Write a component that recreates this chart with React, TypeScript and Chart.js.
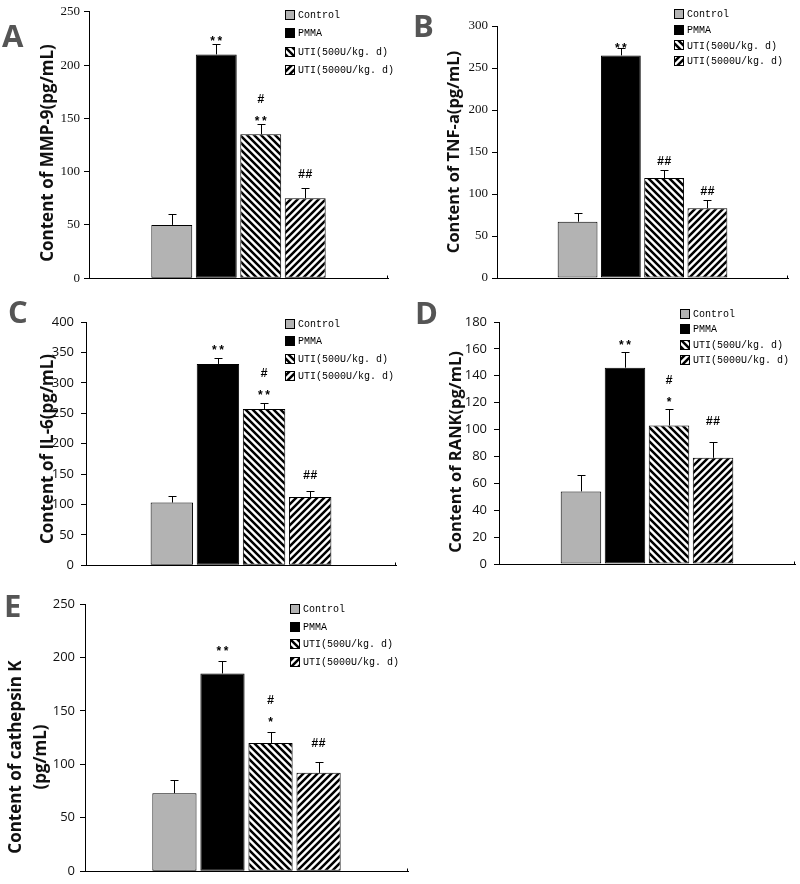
import React, { useEffect, useRef } from "react";
import { Chart, registerables } from "chart.js";

Chart.register(...registerables);

// ---------- data ----------
const groups = ["Control", "PMMA", "UTI(500U/kg. d)", "UTI(5000U/kg. d)"];

const mmp9Values = [50, 210, 135, 75];
const mmp9Errors = [10, 10, 10, 10];
const tnfValues = [67, 265, 119, 83];
const tnfErrors = [10, 9, 10, 10];
const il6Values = [103, 331, 257, 112];
const il6Errors = [10, 9, 10, 10];
const rankValues = [54, 146, 103, 79];
const rankErrors = [12, 12, 12, 12];
const ctskValues = [73, 185, 120, 92];
const ctskErrors = [12, 12, 10, 10];

const starsA = ["", "**", "**", ""];
const hashA = ["", "", "#", "##"];
const starsB = ["", "**", "", ""];
const hashB = ["", "", "##", "##"];
const starsC = ["", "**", "**", ""];
const hashC = ["", "", "#", "##"];
const starsD = ["", "**", "*", ""];
const hashD = ["", "", "#", "##"];
const starsE = ["", "**", "*", ""];
const hashE = ["", "", "#", "##"];

type Rect = { left: number; top: number; width: number; height: number };
type Panel = {
  letter: string;
  values: number[];
  errors: number[];
  stars: string[];
  hashes: string[];
  title: string[];
  yMax: number;
  yStep: number;
  tickFamily: string;
  tickPad: number;
  box: Rect;
  area: { left: number; right: number; top: number; bottom: number };
  legendX: number;
  legendY: number;
  legendGap: number;
  titleX: number[];
  titleY: number;
  titleSize: number;
  letterX: number;
  letterY: number;
  starGap: number;
  hashGap: number;
};

const panels: Panel[] = [
  {
    letter: "A", values: mmp9Values, errors: mmp9Errors, stars: starsA, hashes: hashA,
    title: ["Content of MMP-9(pg/mL)"], yMax: 250, yStep: 50, tickFamily: "'Liberation Serif', serif", tickPad: 4,
    box: { left: 0, top: 0, width: 400, height: 290 },
    area: { left: 89, right: 388, top: 9, bottom: 280 },
    legendX: 298, legendY: 15, legendGap: 18.3,
    titleX: [48], titleY: 153, titleSize: 17, letterX: 2, letterY: 47, starGap: 4, hashGap: 11,
  },
  {
    letter: "B", values: tnfValues, errors: tnfErrors, stars: starsB, hashes: hashB,
    title: ["Content of TNF-a(pg/mL)"], yMax: 300, yStep: 50, tickFamily: "'Liberation Serif', serif", tickPad: 4,
    box: { left: 400, top: 0, width: 400, height: 290 },
    area: { left: 497, right: 788, top: 26, bottom: 278 },
    legendX: 687, legendY: 14, legendGap: 15.7,
    titleX: [454], titleY: 152, titleSize: 16.5, letterX: 413, letterY: 37, starGap: 1, hashGap: 6,
  },
  {
    letter: "C", values: il6Values, errors: il6Errors, stars: starsC, hashes: hashC,
    title: ["Content of IL-6(pg/mL)"], yMax: 400, yStep: 50, tickFamily: "'Open Sans', sans-serif", tickPad: 7,
    box: { left: 0, top: 290, width: 400, height: 290 },
    area: { left: 86, right: 396, top: 322, bottom: 566 },
    legendX: 298, legendY: 324, legendGap: 17.3,
    titleX: [48], titleY: 449, titleSize: 17, letterX: 8, letterY: 323, starGap: 9, hashGap: 13,
  },
  {
    letter: "D", values: rankValues, errors: rankErrors, stars: starsD, hashes: hashD,
    title: ["Content of RANK(pg/mL)"], yMax: 180, yStep: 20, tickFamily: "'Open Sans', sans-serif", tickPad: 7,
    box: { left: 400, top: 290, width: 400, height: 290 },
    area: { left: 499, right: 795, top: 322, bottom: 564 },
    legendX: 693, legendY: 314, legendGap: 15.3,
    titleX: [456], titleY: 452, titleSize: 16.5, letterX: 415, letterY: 324, starGap: 8, hashGap: 18,
  },
  {
    letter: "E", values: ctskValues, errors: ctskErrors, stars: starsE, hashes: hashE,
    title: ["Content of cathepsin K", "(pg/mL)"], yMax: 250, yStep: 50, tickFamily: "'Open Sans', sans-serif", tickPad: 5,
    box: { left: 0, top: 580, width: 420, height: 304 },
    area: { left: 85, right: 408, top: 604, bottom: 875 },
    legendX: 303, legendY: 609, legendGap: 17.5,
    titleX: [16, 41], titleY: 757, titleSize: 17, letterX: 4, letterY: 617, starGap: 11, hashGap: 16,
  },
];

function makeHatch(dir: "back" | "fwd"): CanvasPattern | string {
  const s = 7;
  const c = document.createElement("canvas");
  c.width = s;
  c.height = s;
  const g = c.getContext("2d");
  if (!g) return "#888";
  g.fillStyle = "#fff";
  g.fillRect(0, 0, s, s);
  g.strokeStyle = "#000";
  g.lineWidth = 2.5;
  g.beginPath();
  for (let k = -1; k <= 1; k++) {
    if (dir === "back") {
      g.moveTo(k * s - 2, -2);
      g.lineTo(k * s + s + 2, s + 2);
    } else {
      g.moveTo(k * s - 2, s + 2);
      g.lineTo(k * s + s + 2, -2);
    }
  }
  g.stroke();
  return g.createPattern(c, "repeat") || "#888";
}

const markFont = "bold 12px 'Liberation Mono', monospace";
const legendFont = "10px 'Liberation Mono', monospace";

function overlayPlugin(p: Panel, fills: (string | CanvasPattern)[]) {
  return {
    id: "overlay" + p.letter,
    afterDatasetsDraw(chart: any) {
      const ctx: CanvasRenderingContext2D = chart.ctx;
      const ox = p.box.left;
      const oy = p.box.top;
      const yScale = chart.scales.y;
      ctx.save();
      // error bars
      ctx.strokeStyle = "#000";
      ctx.lineWidth = 1;
      p.values.forEach((v, i) => {
        const bar = chart.getDatasetMeta(i).data[0];
        const x = Math.round(bar.x) + 0.5;
        const yb = bar.y;
        const yt = Math.round(yScale.getPixelForValue(v + p.errors[i])) + 0.5;
        ctx.beginPath();
        ctx.moveTo(x, yb);
        ctx.lineTo(x, yt);
        ctx.moveTo(x - 4, yt);
        ctx.lineTo(x + 4, yt);
        ctx.stroke();
        // significance marks
        ctx.fillStyle = "#000";
        ctx.font = markFont;
        ctx.textAlign = "center";
        ctx.textBaseline = "alphabetic";
        const s = p.stars[i];
        const h = p.hashes[i];
        if (s) {
          const gb = yt - p.starGap;
          const m = ctx.measureText(s);
          ctx.fillText(s, bar.x, gb - m.actualBoundingBoxDescent);
          if (h) {
            const hb = gb - 18;
            const mh = ctx.measureText(h);
            ctx.fillText(h, bar.x, hb - mh.actualBoundingBoxDescent);
          }
        } else if (h) {
          const hb = yt - p.hashGap;
          const mh = ctx.measureText(h);
          ctx.fillText(h, bar.x, hb - mh.actualBoundingBoxDescent);
        }
      });
      // right end tick of x axis
      const xr = Math.round(chart.chartArea.right) - 0.5;
      const yBase = Math.round(chart.chartArea.bottom) + 0.5;
      ctx.beginPath();
      ctx.moveTo(xr, yBase);
      ctx.lineTo(xr, yBase - 3);
      ctx.stroke();
      // legend
      ctx.font = legendFont;
      ctx.textAlign = "left";
      ctx.textBaseline = "middle";
      groups.forEach((g, i) => {
        const cy = p.legendY + i * p.legendGap - oy;
        const bx = p.legendX - 13 - ox;
        ctx.fillStyle = fills[i] as any;
        ctx.fillRect(bx, Math.round(cy - 5), 10, 10);
        ctx.strokeStyle = "#000";
        ctx.strokeRect(bx + 0.5, Math.round(cy - 5) + 0.5, 9, 9);
        ctx.fillStyle = "#000";
        ctx.fillText(g, p.legendX - ox, cy + 0.5);
      });
      // y title
      ctx.font = `bold ${p.titleSize}px 'Open Sans', sans-serif`;
      ctx.fillStyle = "#111";
      ctx.textAlign = "center";
      ctx.textBaseline = "middle";
      p.title.forEach((t, k) => {
        ctx.save();
        ctx.translate(p.titleX[k] - ox, p.titleY - oy);
        ctx.rotate(-Math.PI / 2);
        ctx.fillText(t, 0, 0);
        ctx.restore();
      });
      // panel letter
      ctx.font = "bold 31px 'Open Sans', sans-serif";
      ctx.fillStyle = "#555";
      ctx.textAlign = "left";
      ctx.textBaseline = "alphabetic";
      ctx.fillText(p.letter, p.letterX - ox, p.letterY - oy);
      ctx.restore();
    },
  };
}

function PanelChart({ p }: { p: Panel }) {
  const ref = useRef<HTMLCanvasElement | null>(null);
  useEffect(() => {
    if (!ref.current) return;
    const fills: (string | CanvasPattern)[] = ["#b3b3b3", "#000000", makeHatch("back"), makeHatch("fwd")];
    const W = p.box.width;
    const H = p.box.height;
    const chart = new Chart(ref.current, {
      type: "bar",
      data: {
        labels: [""],
        datasets: groups.map((g, i) => ({
          label: g,
          data: [p.values[i]],
          backgroundColor: fills[i] as any,
          borderColor: "#000",
          borderWidth: 1,
          borderSkipped: false,
          categoryPercentage: 0.595,
          barPercentage: 0.92,
        })),
      },
      options: {
        responsive: false,
        animation: false,
        devicePixelRatio: 1,
        layout: {
          padding: {
            left: 0,
            right: W - (p.area.right - p.box.left),
            top: p.area.top - p.box.top,
            bottom: p.box.top + H - p.area.bottom,
          },
        },
        plugins: { legend: { display: false }, tooltip: { enabled: false } },
        scales: {
          x: {
            grid: { display: false },
            border: { display: true, color: "#000", width: 1 },
            ticks: { display: false },
            afterFit: (s: any) => {
              s.height = 0;
            },
          },
          y: {
            min: 0,
            max: p.yMax,
            ticks: {
              stepSize: p.yStep,
              color: "#111",
              padding: p.tickPad,
              font: { family: p.tickFamily, size: 13 },
            },
            grid: { drawOnChartArea: false, drawTicks: true, tickLength: 5, color: "#000" },
            border: { display: true, color: "#000", width: 1 },
            afterFit: (s: any) => {
              s.width = p.area.left - p.box.left;
            },
          },
        },
      } as any,
      plugins: [overlayPlugin(p, fills)],
    });
    return () => chart.destroy();
  }, [p]);
  return (
    <canvas
      ref={ref}
      width={p.box.width}
      height={p.box.height}
      style={{
        position: "absolute",
        left: p.box.left,
        top: p.box.top,
        width: p.box.width,
        height: p.box.height,
      }}
    />
  );
}

export default function App() {
  return (
    <div
      style={{
        position: "absolute",
        left: 0,
        top: 0,
        width: 800,
        height: 884,
        background: "#fff",
        overflow: "hidden",
      }}
    >
      {panels.map((p) => (
        <PanelChart key={p.letter} p={p} />
      ))}
    </div>
  );
}
